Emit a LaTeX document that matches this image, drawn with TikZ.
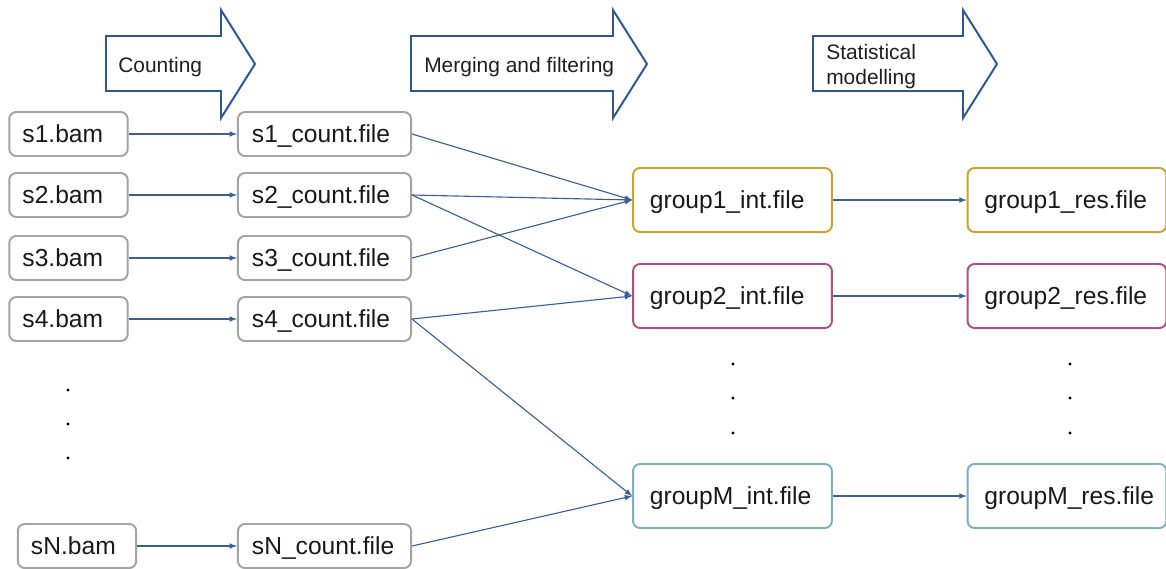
\documentclass[tikz,border=0pt]{standalone}
\usepackage{fontspec}
\usepackage{tikz}
\newfontfamily\arialfont{Liberation Sans}
\definecolor{flowblue}{HTML}{3B5F95}
\definecolor{stageblue}{HTML}{2F5597}
\definecolor{boxgray}{HTML}{A3A3A3}
\definecolor{grpgold}{HTML}{CDA22F}
\definecolor{grppink}{HTML}{B24F80}
\definecolor{grpteal}{HTML}{7DB0BC}
\usetikzlibrary{arrows,positioning}
\tikzstyle{flow} = [draw=flowblue, -latex, line width=0.8pt]
\tikzstyle{stage} = [draw=stageblue, line width=1.4pt, line join=miter, fill=white]
\tikzstyle{stagelabel} = [inner sep=0pt, align=left, text=black!88, font=\arialfont\fontsize{14.9}{17.8}\selectfont]
\tikzstyle{file} = [draw=boxgray, line width=1.4pt, rounded corners=5pt, fill=white, minimum height=1.1cm, inner ysep=0pt, text depth=0pt, align=left, text=black!90, font=\arialfont\fontsize{17.5}{21}\selectfont]
\tikzstyle{bamfile} = [file, inner xsep=0.33cm, text width=2.3cm]
\tikzstyle{cntfile} = [file, inner xsep=0.35cm, text width=3.625cm]
\tikzstyle{grpfile} = [file, minimum height=1.6cm, inner xsep=0.42cm, text width=4.13cm]

\begin{document}
\begin{tikzpicture}[x=0.025cm, y=-0.025cm]
	\useasboundingbox (0,0) rectangle (1166,568);
	% Stage arrows:
	\draw[stage] (106,36) -- (221,36) -- (221,10) -- (255,64) -- (221,118) -- (221,91) -- (106,91) -- cycle; % Counting
	\draw[stage] (411,36) -- (613,36) -- (613,10) -- (647,64) -- (613,118) -- (613,91) -- (411,91) -- cycle; % Merging
	\draw[stage] (813,36) -- (963,36) -- (963,10) -- (997,64) -- (963,118) -- (963,91) -- (813,91) -- cycle; % Modelling
	% Stage labels:
	\node[stagelabel, anchor=base west] (lblcount) at (118,72.5) {Counting};
	\node[stagelabel, anchor=base west] (lblmerge) at (424,72.5) {Merging and filtering};
	\node[stagelabel, anchor=west] (lblmodel) at (826,67) {Statistical\\modelling};

	% Samples:
	\node[bamfile] (s1b) at (68.5,134) {s1.bam};
	\node[bamfile] (s2b) at (68.5,195) {s2.bam};
	\node[bamfile] (s3b) at (68.5,258) {s3.bam};
	\node[bamfile] (s4b) at (68.5,319) {s4.bam};
	\node[bamfile] (sNb) at (77,546) {sN.bam};
	% Counts:
	\node[cntfile] (s1c) at (324.5,134) {s1\_count.file};
	\node[cntfile] (s2c) at (324.5,195) {s2\_count.file};
	\node[cntfile] (s3c) at (324.5,258) {s3\_count.file};
	\node[cntfile] (s4c) at (324.5,319) {s4\_count.file};
	\node[cntfile] (sNc) at (324.5,546) {sN\_count.file};
	% Groups:
	\node[grpfile, draw=grpgold] (g1i) at (732.5,200) {group1\_int.file};
	\node[grpfile, draw=grppink] (g2i) at (732.5,296) {group2\_int.file};
	\node[grpfile, draw=grpteal] (gMi) at (732.5,496) {groupM\_int.file};
	% Results:
	\node[grpfile, draw=grpgold] (g1r) at (1067,200) {group1\_res.file};
	\node[grpfile, draw=grppink] (g2r) at (1067,296) {group2\_res.file};
	\node[grpfile, draw=grpteal] (gMr) at (1067,496) {groupM\_res.file};

	% Dots:
	\fill[black]
		(68,390) circle (1.7) (68,424) circle (1.7) (68,458) circle (1.7)
		(733,364) circle (1.7) (733,398) circle (1.7) (733,433) circle (1.7)
		(1070,364) circle (1.7) (1070,398) circle (1.7) (1070,433) circle (1.7);

	% Flows:
	\draw[flow] (s1b) -- (s1c);
	\draw[flow] (s2b) -- (s2c);
	\draw[flow] (s3b) -- (s3c);
	\draw[flow] (s4b) -- (s4c);
	\draw[flow] (sNb) -- (sNc);
	\draw[flow] (s1c.east) -- (g1i.west);
	\draw[flow] (s2c.east) -- (g1i.west);
	\draw[flow] (s2c.east) -- (g2i.west);
	\draw[flow] (s3c.east) -- (g1i.west);
	\draw[flow] (s4c.east) -- (g2i.west);
	\draw[flow] (s4c.east) -- (gMi.west);
	\draw[flow] (sNc.east) -- (gMi.west);
	\draw[flow] (g1i) -- (g1r);
	\draw[flow] (g2i) -- (g2r);
	\draw[flow] (gMi) -- (gMr);
\end{tikzpicture}
\end{document}
